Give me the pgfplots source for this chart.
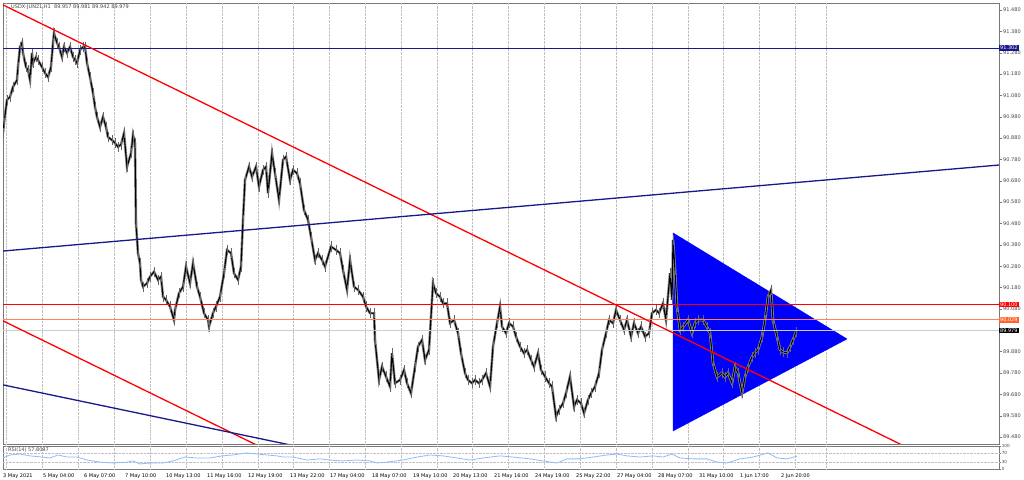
\documentclass[border=0pt]{standalone}
\usepackage{fontspec}
\setmainfont{DejaVu Sans}
\usepackage{pgfplots}
\usepackage{pgfplotstable}
\pgfplotsset{compat=1.18}

\definecolor{navyline}{RGB}{24,24,140}
\definecolor{mtred}{RGB}{255,0,0}
\definecolor{askline}{RGB}{255,130,100}
\definecolor{bidline}{RGB}{205,205,205}
\definecolor{tri}{RGB}{0,0,255}
\definecolor{rsiblue}{RGB}{140,190,250}
\definecolor{axgray}{RGB}{120,120,120}
\definecolor{labgray}{RGB}{70,70,70}
\definecolor{lvlorange}{RGB}{255,100,40}

\newcommand\mt{\fontsize{5bp}{6bp}\selectfont}

% USDX H1 closes (x = chart position, p = price)
\pgfplotstableread{
x p
3 90.904
4 90.951
7 91.059
10 91.073
13 91.120
17 91.152
18 91.213
20 91.307
22 91.326
23 91.279
26 91.213
28 91.199
30 91.152
32 91.279
33 91.232
36 91.260
38 91.246
42 91.213
45 91.185
48 91.166
51 91.213
53 91.326
54 91.372
57 91.326
59 91.307
62 91.260
64 91.307
67 91.279
70 91.307
73 91.260
75 91.246
77 91.232
80 91.293
83 91.307
85 91.307
87 91.232
90 91.166
93 91.091
95 91.026
97 90.979
100 90.932
103 90.979
106 90.932
108 90.885
112 90.871
115 90.857
118 90.839
121 90.850
124 90.903
127 90.746
131 90.809
133 90.895
135 90.856
136 90.481
138 90.341
140 90.294
141 90.216
143 90.184
147 90.200
150 90.231
154 90.254
158 90.216
161 90.231
163 90.137
166 90.122
170 90.091
174 90.028
175 90.075
179 90.153
183 90.184
186 90.278
190 90.200
193 90.294
197 90.184
200 90.137
204 90.060
208 90.028
209 89.997
213 90.060
216 90.091
220 90.137
224 90.247
227 90.356
231 90.341
234 90.247
238 90.216
241 90.278
243 90.497
245 90.684
249 90.746
252 90.699
256 90.746
259 90.653
263 90.731
266 90.746
268 90.622
272 90.809
275 90.715
279 90.590
283 90.778
286 90.793
290 90.684
293 90.731
297 90.715
300 90.668
304 90.543
308 90.497
311 90.418
315 90.309
318 90.341
322 90.309
325 90.278
331 90.372
336 90.356
340 90.341
343 90.262
347 90.169
350 90.309
354 90.184
358 90.169
363 90.137
366 90.091
370 90.060
374 90.060
375 89.935
379 89.747
382 89.809
386 89.763
390 89.716
392 89.872
395 89.732
400 89.747
404 89.794
407 89.732
411 89.685
415 89.809
418 89.903
422 89.935
425 89.841
429 89.888
433 90.200
436 90.153
440 90.137
443 90.106
447 90.106
450 90.013
454 90.028
458 89.966
461 89.872
465 89.779
468 89.747
472 89.732
475 89.747
479 89.732
482 89.747
486 89.779
490 89.716
493 89.903
497 90.013
500 90.091
502 89.997
506 89.966
509 90.013
513 89.997
516 89.950
520 89.903
524 89.872
527 89.888
531 89.841
534 89.809
538 89.872
541 89.794
545 89.763
549 89.732
552 89.716
556 89.575
559 89.607
563 89.638
566 89.685
570 89.763
574 89.622
577 89.654
581 89.638
584 89.591
588 89.654
591 89.685
595 89.716
599 89.779
602 89.888
606 89.966
609 90.028
613 90.013
616 90.075
620 90.028
624 89.981
627 90.028
631 89.950
634 90.013
638 89.966
641 89.997
645 89.950
649 89.966
652 90.060
656 90.075
659 90.060
663 90.106
666 90.028
670 90.247
672 90.122
673 90.403
675 90.262
677 90.089
680 89.981
683 89.995
688 90.028
692 89.967
695 90.014
698 90.028
703 90.028
707 89.995
710 89.967
713 89.827
717 89.761
722 89.780
725 89.761
728 89.780
732 89.733
735 89.808
738 89.780
742 89.686
745 89.761
748 89.808
752 89.855
755 89.874
758 89.888
762 89.949
765 90.028
768 90.136
771 90.169
773 90.028
777 89.949
780 89.888
783 89.878
787 89.874
790 89.902
793 89.935
796 89.972
}\price

% RSI(14)
\pgfplotstableread{
x r
3 48
10 61
20 65
30 57
42 52
50 48
58 61
67 52
77 52
87 39
100 30
113 26
127 30
133 35
140 22
150 26
163 26
173 35
185 52
197 48
210 48
222 57
233 61
247 70
257 65
267 61
277 57
283 52
293 52
307 39
320 44
330 39
343 35
357 39
370 35
377 26
387 30
403 39
417 52
430 61
443 57
457 48
470 39
483 48
500 57
513 52
530 44
543 35
557 26
567 44
580 44
593 52
607 61
617 65
627 57
640 52
653 57
663 52
672 65
680 48
693 44
707 44
717 30
727 26
740 44
753 52
768 70
777 48
787 44
797 56
}\rsi

\pgfplotsset{
  mtgrid/.style={
    extra x ticks={6,42,78,114,150,186,222,258,293,329,365,401,437,472,508,544,580,616,652,688,723,759,795,826},
    extra x tick labels={},
    extra x tick style={grid=major, major tick length=0pt},
  },
}

\begin{document}
\begin{tikzpicture}
\useasboundingbox (0,0) rectangle (1024bp,480bp);
\fill[white] (0,0) rectangle (1024bp,480bp);

\begin{axis}[
  at={(3bp,36bp)}, anchor=south west,
  width=996bp, height=441bp, scale only axis,
  xmin=3, xmax=999, ymin=89.447, ymax=91.513,
  clip mode=individual,
  axis line style={axgray},
  xtick=\empty,
  mtgrid,
  grid style={densely dotted, gray!50},
  ytick={89.48,89.58,89.68,89.78,89.88,89.98,90.08,90.18,90.28,90.38,90.48,90.58,90.68,90.78,90.88,90.98,91.08,91.18,91.28,91.38,91.48},
  yticklabels={89.480,89.580,89.680,89.780,89.880,,90.080,90.180,90.280,90.380,90.480,90.580,90.680,90.780,90.880,90.980,91.080,91.180,91.280,91.380,91.480},
  ytick pos=right, yticklabel pos=right,
  tick align=outside, major tick length=3bp,
  ytick style={draw=axgray},
  yticklabel style={font=\mt, text=labgray, inner sep=1bp},
]
% triangle (background object)
\addplot[fill=tri, draw=tri] coordinates {(673,90.436) (847,89.939) (673,89.508)} -- cycle;

% price
\addplot[black!45, line width=2.6bp] table[x=x,y=p]{\price};
\addplot[black, line width=1.1bp,
  error bars/.cd, y dir=both, y fixed=0.024,
  error bar style={black!60, line width=0.7bp}, error mark=none]
  table[x=x,y=p]{\price};

% levels
\addplot[bidline, line width=0.7bp] coordinates {(3,89.979) (999,89.979)};
\addplot[askline, line width=0.6bp] coordinates {(3,90.029) (999,90.029)};
\addplot[mtred, line width=0.8bp] coordinates {(3,90.100) (999,90.100)};
\addplot[navyline, line width=0.8bp] coordinates {(3,91.302) (999,91.302)};

% trend lines
\addplot[mtred, line width=1.3bp] coordinates {(3,91.504) (999,89.220)};
\addplot[mtred, line width=1.3bp] coordinates {(3,90.024) (400,89.113)};
\addplot[navyline, line width=1.3bp] coordinates {(3,90.351) (999,90.754)};
\addplot[navyline, line width=1.3bp] coordinates {(3,89.724) (400,89.335)};

% price tags
\node[fill=navyline, text=white, font=\mt, inner sep=0.9bp, anchor=west] at (axis cs:999,91.302) {91.302};
\node[fill=mtred, text=white, font=\mt, inner sep=0.9bp, anchor=west] at (axis cs:999,90.100) {90.100};
\node[fill=lvlorange, text=white, font=\mt, inner sep=0.9bp, anchor=west] at (axis cs:999,90.029) {90.029};
\node[fill=black, text=white, font=\mt, inner sep=0.9bp, anchor=west] at (axis cs:999,89.979) {89.979};

\node[anchor=north west, font=\mt, text=labgray, inner sep=0pt] at ([xshift=8bp,yshift=-1.5bp]rel axis cs:0,1) {USDX-JUN21,H1\ \ 89.957 89.981 89.942 89.979};
\end{axis}

\begin{axis}[
  at={(3bp,11bp)}, anchor=south west,
  width=996bp, height=23bp, scale only axis,
  xmin=3, xmax=999, ymin=0, ymax=100,
  clip mode=individual,
  axis line style={axgray, line width=0.9bp},
  xtick={3,43,84,125,166,207,248,290,330,372,413,453,494,535,576,617,658,699,740,781},
  xticklabels={3 May 2021,5 May 04:00,6 May 07:00,7 May 10:00,10 May 13:00,11 May 16:00,12 May 19:00,13 May 22:00,17 May 04:00,18 May 07:00,19 May 10:00,20 May 13:00,21 May 16:00,24 May 19:00,25 May 22:00,27 May 04:00,28 May 07:00,31 May 10:00,1 Jun 17:00,2 Jun 20:00},
  xticklabel style={anchor=north west, font=\mt, text=black, inner sep=0pt, yshift=-2.5bp},
  xtick style={draw=none},
  mtgrid,
  grid style={densely dotted, gray!50},
  ytick={0,30,70,100},
  ytick pos=right, yticklabel pos=right,
  tick align=outside, major tick length=2bp,
  ytick style={draw=axgray},
  yticklabel style={font=\fontsize{4.2bp}{4.2bp}\selectfont, text=labgray, inner sep=0.6bp,
    /pgf/number format/assume math mode=true},
  extra y ticks={30,70},
  extra y tick labels={},
  extra y tick style={grid=major, major tick length=0pt},
]
\addplot[rsiblue, line width=0.8bp] table[x=x,y=r]{\rsi};
\node[anchor=north west, font=\mt, text=labgray, inner sep=0pt] at ([xshift=5bp,yshift=-1.5bp]rel axis cs:0,1) {RSI(14) 57.8097};
\end{axis}
\end{tikzpicture}
\end{document}
